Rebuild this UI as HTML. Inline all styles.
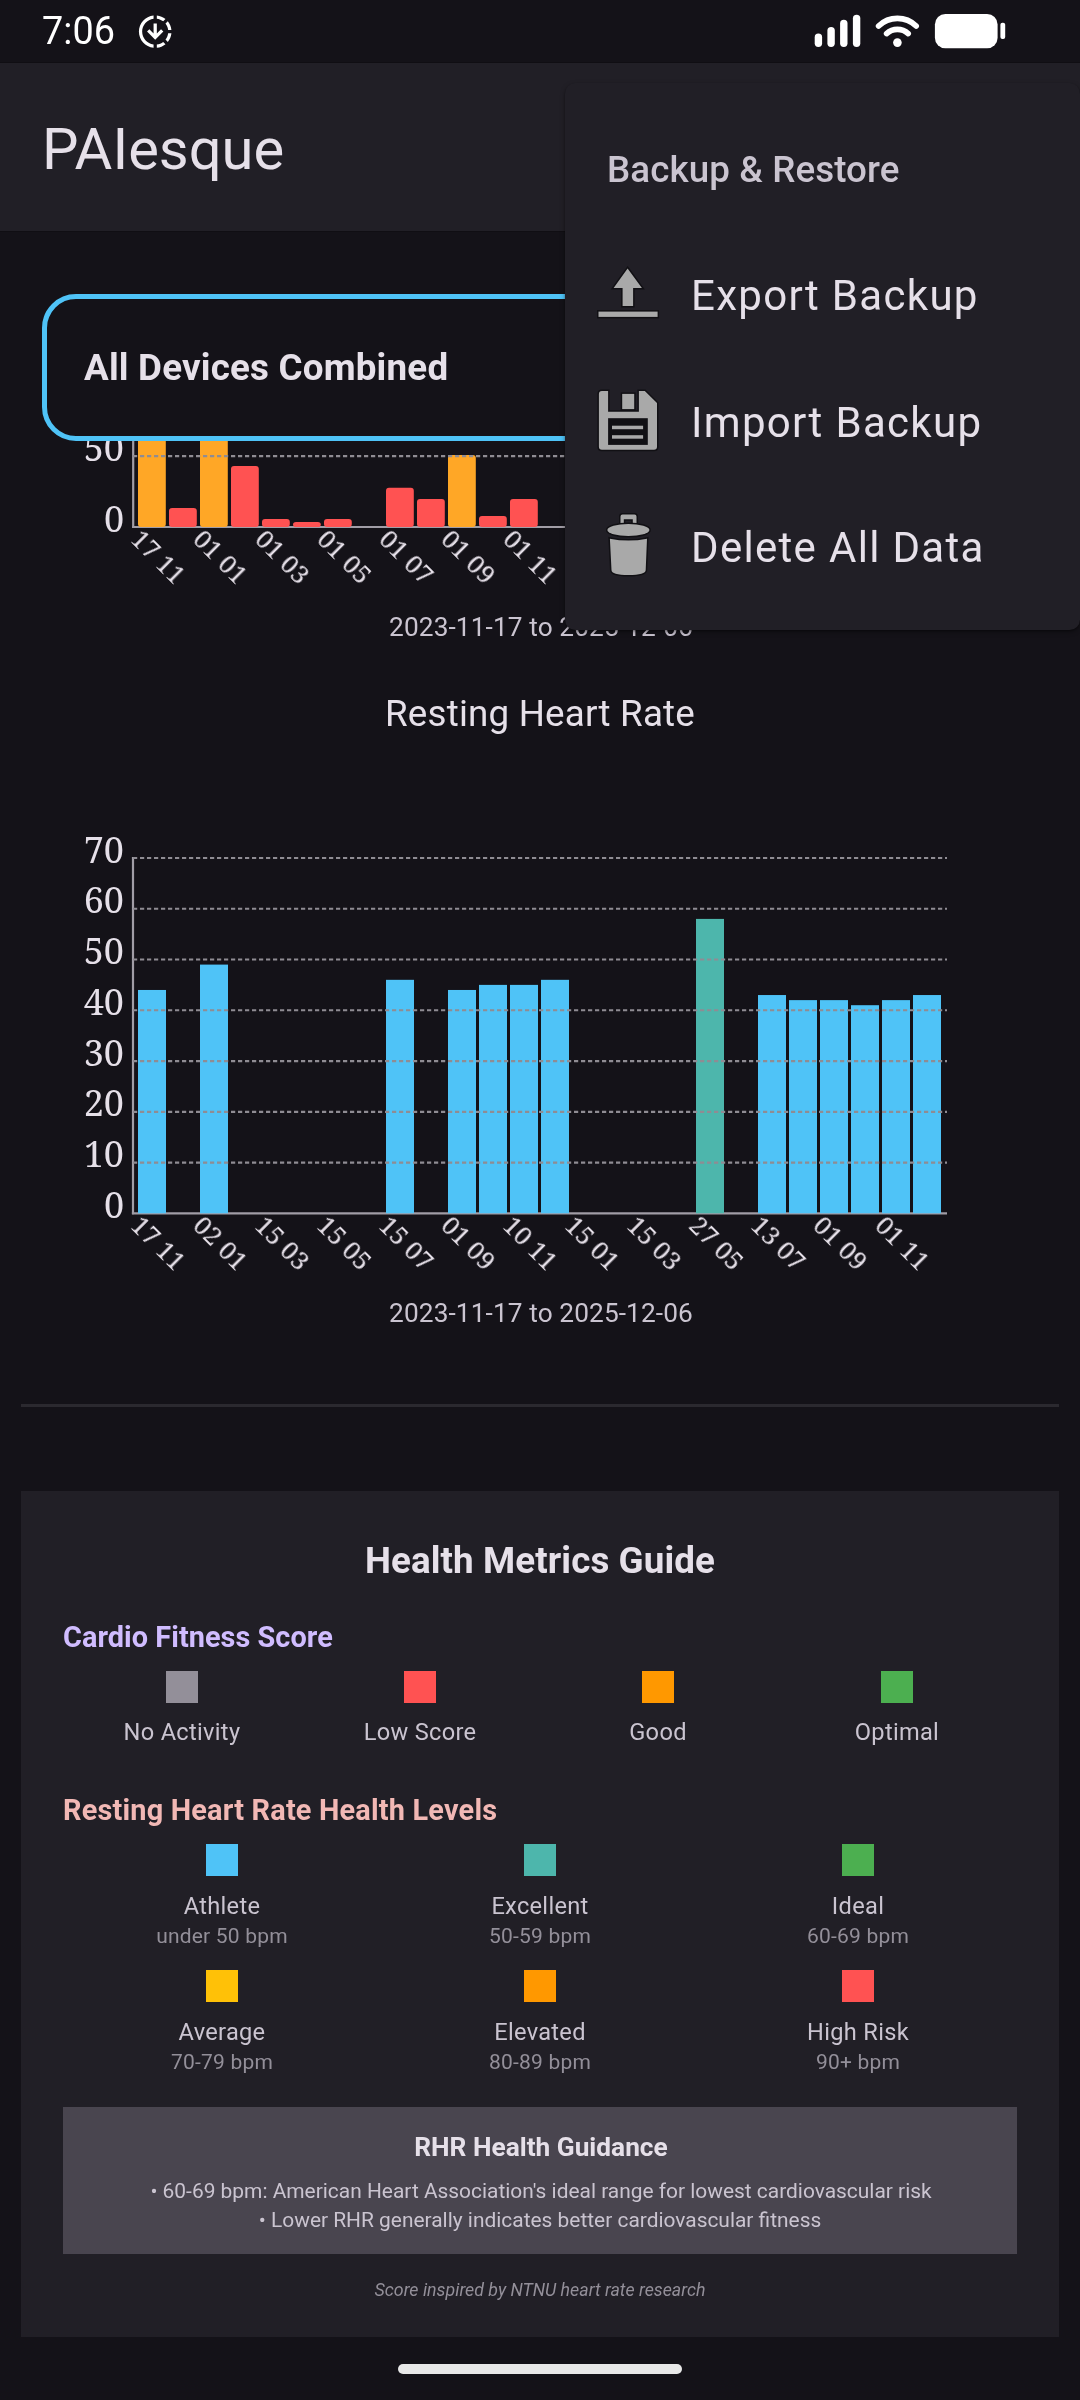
<!DOCTYPE html>
<html lang="en"><head><meta charset="utf-8"><title>PAIesque</title>
<style>
*{margin:0;padding:0;box-sizing:border-box}
html,body{width:1080px;height:2400px;overflow:hidden;background:#141218}
body{position:relative;font-family:'Roboto','Liberation Sans',sans-serif;-webkit-font-smoothing:antialiased}
.t,svg text{will-change:transform}
.t{position:absolute;white-space:nowrap}
.ov{position:absolute;left:0;top:0}
.ax{font-family:'Noto Serif','DejaVu Serif','Liberation Serif',serif;font-size:36px;fill:#e6e0e9}
.xl{font-family:'Noto Serif','DejaVu Serif','Liberation Serif',serif;font-size:25.5px;fill:#e6e0e9}
.abs{position:absolute}
</style></head><body>
<svg class="ov" width="1080" height="2400" viewBox="0 0 1080 2400">
<line x1="133.2" y1="300" x2="133.2" y2="528" stroke="#a19da6" stroke-width="2.2"/>
<line x1="132.1" y1="527.00" x2="947" y2="527.00" stroke="#a19da6" stroke-width="2.2"/>
<rect x="138" y="413.56" width="27.8" height="113.44" rx="3" fill="#ffa726"/>
<rect x="169" y="508.00" width="27.8" height="19.00" rx="3" fill="#ff5252"/>
<rect x="200" y="413.56" width="27.8" height="113.44" rx="3" fill="#ffa726"/>
<rect x="231" y="466.03" width="27.8" height="60.97" rx="3" fill="#ff5252"/>
<rect x="262" y="519.06" width="27.8" height="7.94" rx="3" fill="#ff5252"/>
<rect x="293" y="521.90" width="27.8" height="5.10" rx="3" fill="#ff5252"/>
<rect x="324" y="519.06" width="27.8" height="7.94" rx="3" fill="#ff5252"/>
<rect x="386" y="487.86" width="27.8" height="39.14" rx="3" fill="#ff5252"/>
<rect x="417" y="498.92" width="27.8" height="28.08" rx="3" fill="#ff5252"/>
<rect x="448" y="455.11" width="27.8" height="71.89" rx="3" fill="#ffa726"/>
<rect x="479" y="515.94" width="27.8" height="11.06" rx="3" fill="#ff5252"/>
<rect x="510" y="498.92" width="27.8" height="28.08" rx="3" fill="#ff5252"/>
<rect x="572" y="449.01" width="27.8" height="77.99" rx="3" fill="#ffa726"/>
<rect x="603" y="512.82" width="27.8" height="14.18" rx="3" fill="#ff5252"/>
<rect x="634" y="498.64" width="27.8" height="28.36" rx="3" fill="#ff5252"/>
<rect x="665" y="509.98" width="27.8" height="17.02" rx="3" fill="#ff5252"/>
<rect x="696" y="515.66" width="27.8" height="11.34" rx="3" fill="#ff5252"/>
<rect x="727" y="484.46" width="27.8" height="42.54" rx="3" fill="#ff5252"/>
<rect x="758" y="505.73" width="27.8" height="21.27" rx="3" fill="#ff5252"/>
<rect x="789" y="512.82" width="27.8" height="14.18" rx="3" fill="#ff5252"/>
<rect x="820" y="515.66" width="27.8" height="11.34" rx="3" fill="#ff5252"/>
<rect x="851" y="509.98" width="27.8" height="17.02" rx="3" fill="#ff5252"/>
<rect x="882" y="518.49" width="27.8" height="8.51" rx="3" fill="#ff5252"/>
<rect x="913" y="514.24" width="27.8" height="12.76" rx="3" fill="#ff5252"/>
<line x1="133" y1="456.10" x2="947" y2="456.10" stroke="#8f8c93" stroke-width="2.2" stroke-dasharray="4.2 2.8"/>
<line x1="133" y1="385.20" x2="947" y2="385.20" stroke="#8f8c93" stroke-width="2.2" stroke-dasharray="4.2 2.8"/>
<text x="124" y="531.70" text-anchor="end" class="ax">0</text>
<text x="124" y="460.80" text-anchor="end" class="ax">50</text>
<text x="124" y="389.90" text-anchor="end" class="ax">100</text>
<text transform="translate(129.5,540.8) rotate(45)" class="xl">17 11</text>
<text transform="translate(191.5,540.8) rotate(45)" class="xl">01 01</text>
<text transform="translate(253.5,540.8) rotate(45)" class="xl">01 03</text>
<text transform="translate(315.5,540.8) rotate(45)" class="xl">01 05</text>
<text transform="translate(377.5,540.8) rotate(45)" class="xl">01 07</text>
<text transform="translate(439.5,540.8) rotate(45)" class="xl">01 09</text>
<text transform="translate(501.5,540.8) rotate(45)" class="xl">01 11</text>
<text transform="translate(563.5,540.8) rotate(45)" class="xl">01 01</text>
<text transform="translate(625.5,540.8) rotate(45)" class="xl">01 03</text>
<text transform="translate(687.5,540.8) rotate(45)" class="xl">01 05</text>
<text transform="translate(749.5,540.8) rotate(45)" class="xl">01 07</text>
<text transform="translate(811.5,540.8) rotate(45)" class="xl">01 09</text>
<text transform="translate(873.5,540.8) rotate(45)" class="xl">01 11</text>
<line x1="133" y1="857" x2="133" y2="1214.3" stroke="#a19da6" stroke-width="2.2"/>
<line x1="131.9" y1="1213.3" x2="947" y2="1213.3" stroke="#a19da6" stroke-width="2.2"/>
<rect x="138" y="989.97" width="28" height="223.33" fill="#4fc3f7"/>
<rect x="200" y="964.59" width="28" height="248.71" fill="#4fc3f7"/>
<rect x="386" y="979.82" width="28" height="233.48" fill="#4fc3f7"/>
<rect x="448" y="989.97" width="28" height="223.33" fill="#4fc3f7"/>
<rect x="479" y="984.89" width="28" height="228.41" fill="#4fc3f7"/>
<rect x="510" y="984.89" width="28" height="228.41" fill="#4fc3f7"/>
<rect x="541" y="979.82" width="28" height="233.48" fill="#4fc3f7"/>
<rect x="696" y="918.91" width="28" height="294.39" fill="#4db6ac"/>
<rect x="758" y="995.04" width="28" height="218.26" fill="#4fc3f7"/>
<rect x="789" y="1000.12" width="28" height="213.18" fill="#4fc3f7"/>
<rect x="820" y="1000.12" width="28" height="213.18" fill="#4fc3f7"/>
<rect x="851" y="1005.20" width="28" height="208.10" fill="#4fc3f7"/>
<rect x="882" y="1000.12" width="28" height="213.18" fill="#4fc3f7"/>
<rect x="913" y="995.04" width="28" height="218.26" fill="#4fc3f7"/>
<line x1="133" y1="1162.54" x2="947" y2="1162.54" stroke="#8f8c93" stroke-width="2.2" stroke-dasharray="4.2 2.8"/>
<line x1="133" y1="1111.79" x2="947" y2="1111.79" stroke="#8f8c93" stroke-width="2.2" stroke-dasharray="4.2 2.8"/>
<line x1="133" y1="1061.03" x2="947" y2="1061.03" stroke="#8f8c93" stroke-width="2.2" stroke-dasharray="4.2 2.8"/>
<line x1="133" y1="1010.27" x2="947" y2="1010.27" stroke="#8f8c93" stroke-width="2.2" stroke-dasharray="4.2 2.8"/>
<line x1="133" y1="959.51" x2="947" y2="959.51" stroke="#8f8c93" stroke-width="2.2" stroke-dasharray="4.2 2.8"/>
<line x1="133" y1="908.76" x2="947" y2="908.76" stroke="#8f8c93" stroke-width="2.2" stroke-dasharray="4.2 2.8"/>
<line x1="133" y1="858.00" x2="947" y2="858.00" stroke="#8f8c93" stroke-width="2.2" stroke-dasharray="4.2 2.8"/>
<text x="124" y="1218.00" text-anchor="end" class="ax">0</text>
<text x="124" y="1167.24" text-anchor="end" class="ax">10</text>
<text x="124" y="1116.49" text-anchor="end" class="ax">20</text>
<text x="124" y="1065.73" text-anchor="end" class="ax">30</text>
<text x="124" y="1014.97" text-anchor="end" class="ax">40</text>
<text x="124" y="964.21" text-anchor="end" class="ax">50</text>
<text x="124" y="913.46" text-anchor="end" class="ax">60</text>
<text x="124" y="862.70" text-anchor="end" class="ax">70</text>
<text transform="translate(129.5,1227.1) rotate(45)" class="xl">17 11</text>
<text transform="translate(191.5,1227.1) rotate(45)" class="xl">02 01</text>
<text transform="translate(253.5,1227.1) rotate(45)" class="xl">15 03</text>
<text transform="translate(315.5,1227.1) rotate(45)" class="xl">15 05</text>
<text transform="translate(377.5,1227.1) rotate(45)" class="xl">15 07</text>
<text transform="translate(439.5,1227.1) rotate(45)" class="xl">01 09</text>
<text transform="translate(501.5,1227.1) rotate(45)" class="xl">10 11</text>
<text transform="translate(563.5,1227.1) rotate(45)" class="xl">15 01</text>
<text transform="translate(625.5,1227.1) rotate(45)" class="xl">15 03</text>
<text transform="translate(687.5,1227.1) rotate(45)" class="xl">27 05</text>
<text transform="translate(749.5,1227.1) rotate(45)" class="xl">13 07</text>
<text transform="translate(811.5,1227.1) rotate(45)" class="xl">01 09</text>
<text transform="translate(873.5,1227.1) rotate(45)" class="xl">01 11</text>
</svg>
<div class="abs" style="left:0;top:231px;width:1080px;height:210px;background:#141218"></div>
<div class="abs" style="left:42px;top:294px;width:1100px;height:147px;border:5.25px solid #4fc3f7;border-radius:34px;background:#141218"></div>
<div class="t" style="top:349.83px;font-size:36.75px;line-height:36.75px;color:#e6e0e9;font-weight:700;letter-spacing:0.2px;left:84px;">All Devices Combined</div>
<div class="t" style="top:614.25px;font-size:26.25px;line-height:26.25px;color:#cac4d0;letter-spacing:0.1px;left:40.5px;width:1000px;text-align:center;">2023-11-17 to 2025-12-06</div>
<div class="t" style="top:695.83px;font-size:36.75px;line-height:36.75px;color:#e6e0e9;letter-spacing:0.2px;left:40.200000000000045px;width:1000px;text-align:center;">Resting Heart Rate</div>
<div class="t" style="top:1300.05px;font-size:26.25px;line-height:26.25px;color:#cac4d0;letter-spacing:0.1px;left:40.5px;width:1000px;text-align:center;">2023-11-17 to 2025-12-06</div>
<div class="abs" style="left:21px;top:1404px;width:1038px;height:3px;background:#2b292f"></div>
<div class="abs" style="left:21px;top:1491px;width:1038px;height:846px;background:#211f26"></div>
<div class="t" style="top:1542.93px;font-size:36.75px;line-height:36.75px;color:#e6e0e9;font-weight:700;letter-spacing:0.1px;left:39.60000000000002px;width:1000px;text-align:center;">Health Metrics Guide</div>
<div class="t" style="top:1622.84px;font-size:28.875px;line-height:28.875px;color:#d0bcff;font-weight:700;letter-spacing:0.05px;left:63.2px;">Cardio Fitness Score</div>
<div class="abs" style="left:166px;top:1671px;width:32px;height:32px;background:#938f99"></div>
<div class="t" style="top:1721.36px;font-size:23.625px;line-height:23.625px;color:#cac4d0;letter-spacing:0.3px;left:-318px;width:1000px;text-align:center;">No Activity</div>
<div class="abs" style="left:404px;top:1671px;width:32px;height:32px;background:#ff5252"></div>
<div class="t" style="top:1721.36px;font-size:23.625px;line-height:23.625px;color:#cac4d0;letter-spacing:0.3px;left:-80px;width:1000px;text-align:center;">Low Score</div>
<div class="abs" style="left:642px;top:1671px;width:32px;height:32px;background:#ff9800"></div>
<div class="t" style="top:1721.36px;font-size:23.625px;line-height:23.625px;color:#cac4d0;letter-spacing:0.3px;left:158px;width:1000px;text-align:center;">Good</div>
<div class="abs" style="left:881px;top:1671px;width:32px;height:32px;background:#4caf50"></div>
<div class="t" style="top:1721.36px;font-size:23.625px;line-height:23.625px;color:#cac4d0;letter-spacing:0.3px;left:397px;width:1000px;text-align:center;">Optimal</div>
<div class="t" style="top:1795.84px;font-size:28.875px;line-height:28.875px;color:#f2b8b5;font-weight:700;letter-spacing:0.2px;left:63px;">Resting Heart Rate Health Levels</div>
<div class="abs" style="left:206px;top:1844px;width:32px;height:32px;background:#4fc3f7"></div>
<div class="t" style="top:1894.65px;font-size:23.625px;line-height:23.625px;color:#cac4d0;letter-spacing:0.3px;left:-278px;width:1000px;text-align:center;">Athlete</div>
<div class="t" style="top:1926.06px;font-size:21px;line-height:21px;color:#938f99;letter-spacing:0.2px;left:-278px;width:1000px;text-align:center;">under 50 bpm</div>
<div class="abs" style="left:524px;top:1844px;width:32px;height:32px;background:#4db6ac"></div>
<div class="t" style="top:1894.65px;font-size:23.625px;line-height:23.625px;color:#cac4d0;letter-spacing:0.3px;left:40px;width:1000px;text-align:center;">Excellent</div>
<div class="t" style="top:1926.06px;font-size:21px;line-height:21px;color:#938f99;letter-spacing:0.2px;left:40px;width:1000px;text-align:center;">50-59 bpm</div>
<div class="abs" style="left:842px;top:1844px;width:32px;height:32px;background:#4caf50"></div>
<div class="t" style="top:1894.65px;font-size:23.625px;line-height:23.625px;color:#cac4d0;letter-spacing:0.3px;left:358px;width:1000px;text-align:center;">Ideal</div>
<div class="t" style="top:1926.06px;font-size:21px;line-height:21px;color:#938f99;letter-spacing:0.2px;left:358px;width:1000px;text-align:center;">60-69 bpm</div>
<div class="abs" style="left:206px;top:1970px;width:32px;height:32px;background:#ffc107"></div>
<div class="t" style="top:2020.65px;font-size:23.625px;line-height:23.625px;color:#cac4d0;letter-spacing:0.3px;left:-278px;width:1000px;text-align:center;">Average</div>
<div class="t" style="top:2052.06px;font-size:21px;line-height:21px;color:#938f99;letter-spacing:0.2px;left:-278px;width:1000px;text-align:center;">70-79 bpm</div>
<div class="abs" style="left:524px;top:1970px;width:32px;height:32px;background:#ff9800"></div>
<div class="t" style="top:2020.65px;font-size:23.625px;line-height:23.625px;color:#cac4d0;letter-spacing:0.3px;left:40px;width:1000px;text-align:center;">Elevated</div>
<div class="t" style="top:2052.06px;font-size:21px;line-height:21px;color:#938f99;letter-spacing:0.2px;left:40px;width:1000px;text-align:center;">80-89 bpm</div>
<div class="abs" style="left:842px;top:1970px;width:32px;height:32px;background:#ff5252"></div>
<div class="t" style="top:2020.65px;font-size:23.625px;line-height:23.625px;color:#cac4d0;letter-spacing:0.3px;left:358px;width:1000px;text-align:center;">High Risk</div>
<div class="t" style="top:2052.06px;font-size:21px;line-height:21px;color:#938f99;letter-spacing:0.2px;left:358px;width:1000px;text-align:center;">90+ bpm</div>
<div class="abs" style="left:63px;top:2107px;width:954px;height:147px;background:#49454f"></div>
<div class="t" style="top:2134.45px;font-size:26.25px;line-height:26.25px;color:#e6e0e9;font-weight:700;left:40.5px;width:1000px;text-align:center;">RHR Health Guidance</div>
<div class="t" style="top:2181.03px;font-size:20.92px;line-height:20.92px;color:#cac4d0;left:41.299999999999955px;width:1000px;text-align:center;">• 60-69 bpm: American Heart Association's ideal range for lowest cardiovascular risk</div>
<div class="t" style="top:2210.23px;font-size:20.92px;line-height:20.92px;color:#cac4d0;left:40.200000000000045px;width:1000px;text-align:center;">• Lower RHR generally indicates better cardiovascular fitness</div>
<div class="t" style="top:2280.65px;font-size:17.8px;line-height:17.8px;color:#938f99;font-style:italic;left:39.60000000000002px;width:1000px;text-align:center;">Score inspired by NTNU heart rate research</div>
<div class="abs" style="left:398px;top:2363.8px;width:284px;height:10.2px;border-radius:5.1px;background:#e8e8e8"></div>
<div class="abs" style="left:0;top:0;width:1080px;height:63px;background:#141218"></div>
<div class="abs" style="left:0;top:63px;width:1080px;height:168px;background:#211f26"></div>
<div class="abs" style="left:0;top:62px;width:1080px;height:1px;background:#100e13"></div>
<div class="abs" style="left:0;top:231px;width:1080px;height:1px;background:#100e13"></div>
<div class="t" style="top:13.25px;font-size:37.8px;line-height:37.8px;color:#ffffff;left:42.4px;transform:scaleY(1.035);transform-origin:0 31.75px;">7:06</div>
<div class="t" style="top:121.36px;font-size:57.9px;line-height:57.9px;color:#e6e0e9;left:42px;">PAIesque</div>
<svg class="ov" width="1080" height="63" viewBox="0 0 1080 63">
<path transform="translate(135.64,12.04) scale(1.63)" fill="#fff" d="M18.32,4.26C16.84,3.05,15.01,2.25,13,2.05v2.02c1.46,0.18,2.79,0.76,3.9,1.62L18.32,4.26z M19.93,11h2.02c-0.2-2.01-1-3.84-2.21-5.32L18.31,7.1C19.17,8.21,19.75,9.54,19.93,11z M18.31,16.9l1.43,1.430c1.21-1.48,2.01-3.32,2.21-5.32h-2.02C19.75,14.46,19.17,15.79,18.31,16.9z M13,19.930v2.02c2.01-0.2,3.84-1,5.32-2.21l-1.43-1.43C15.79,19.17,14.46,19.75,13,19.93z M15.59,10.59L13,13.17V7h-2v6.17l-2.59-2.59L7,12l5,5l5-5L15.59,10.59z M11,19.93v2.02c-5.05-0.5-9-4.76-9-9.95s3.95-9.45,9-9.950v2.02C7.05,4.56,4,7.92,4,12S7.05,19.44,11,19.93z"/>
<g fill="#fff">
<rect x="814.7" y="33.6" width="7.4" height="13.3" rx="3.7"/>
<rect x="827.4" y="26.9" width="7.4" height="20" rx="3.7"/>
<rect x="840.1" y="19.8" width="7.4" height="27.1" rx="3.7"/>
<rect x="852.9" y="14.7" width="7.4" height="32.2" rx="3.7"/>
<circle cx="897.4" cy="42.6" r="4.3"/>
<rect x="934.9" y="13.9" width="62.7" height="34.4" rx="10.5"/>
<rect x="1000.4" y="22.8" width="4.8" height="16.3" rx="2"/>
</g>
<g fill="none" stroke="#fff" stroke-width="5.6" stroke-linecap="round">
<path d="M878.6 26 A27 27 0 0 1 916.2 26"/>
<path d="M886.6 33.6 A16 16 0 0 1 908.2 33.6"/>
</g>
</svg>
<div class="abs" style="left:565px;top:83px;width:515px;height:547px;background:#211f26;border-radius:10.5px;box-shadow:0 2px 5px rgba(0,0,0,0.35),0 1px 2px rgba(0,0,0,0.3)"></div>
<div class="t" style="top:151.73px;font-size:36.75px;line-height:36.75px;color:#cac4d0;font-weight:500;letter-spacing:0.1px;left:607px;">Backup &amp; Restore</div>
<div class="t" style="top:275.32px;font-size:42px;line-height:42px;color:#e6e0e9;letter-spacing:1.3125px;left:691px;">Export Backup</div>
<div class="t" style="top:401.62px;font-size:42px;line-height:42px;color:#e6e0e9;letter-spacing:1.3125px;left:691px;">Import Backup</div>
<div class="t" style="top:527.02px;font-size:42px;line-height:42px;color:#e6e0e9;letter-spacing:1.3125px;left:691px;">Delete All Data</div>
<svg class="ov" width="1080" height="640" viewBox="0 0 1080 640">
<g fill="#a9a9a9" stroke="#111014" stroke-width="3" paint-order="stroke" stroke-linejoin="miter">
<path d="M627.6 268.5 L641.9 288.1 L633.1 288.1 L633.1 306.1 L622.6 306.1 L622.6 288.1 L613.6 288.1 Z"/>
<rect x="598.5" y="311.6" width="59.1" height="5.3"/>
<path d="M601.9 391.1 L608.1 391.1 L608.1 411.7 L638.9 411.7 L638.9 391.1 L644.8 391.1 L657 403.1 L657 446.8 Q657 449.8 654 449.8 L601.9 449.8 Q598.9 449.8 598.9 446.8 L598.9 394.1 Q598.9 391.1 601.9 391.1 Z"/>
<rect x="622.2" y="393.9" width="12" height="15.2"/>
<rect x="612" y="425.7" width="31.1" height="3.5"/>
<rect x="612" y="435.2" width="31.1" height="3.5"/>
<path d="M620.5 523.5 L620.5 516.6 Q620.5 514.6 622.5 514.6 L634.5 514.6 Q636.5 514.6 636.5 516.6 L636.5 523.5 L632.8 523.5 L632.8 519.2 L623.8 519.2 L623.8 523.5 Z"/>
<ellipse cx="628.4" cy="530" rx="21" ry="6.1"/>
<path d="M609.9 538.7 Q628.4 542.5 647 538.7 L645.7 570 Q645.7 575 628.4 575 Q611.5 575 611.5 570 Z"/>
</g>
<rect x="608.1" y="418.2" width="39.7" height="26.7" fill="#111014" />
<rect x="612" y="425.7" width="31.1" height="3.5" fill="#a9a9a9"/>
<rect x="612" y="435.2" width="31.1" height="3.5" fill="#a9a9a9"/>
</svg>
</body></html>
